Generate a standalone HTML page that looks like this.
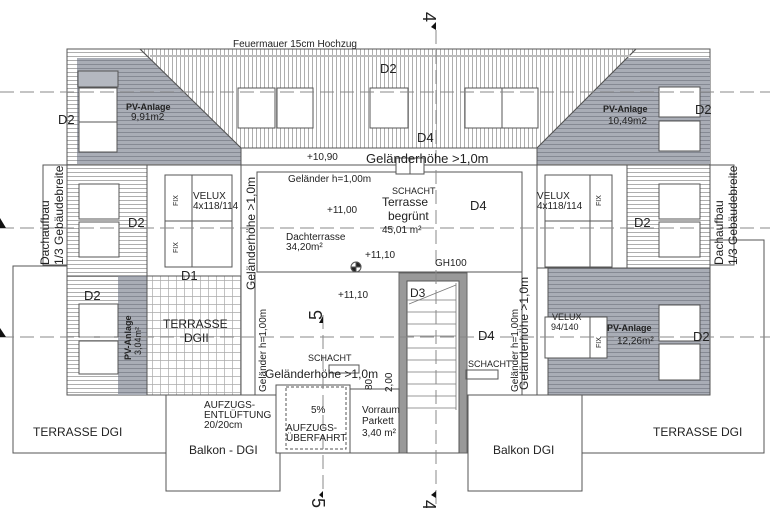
<!DOCTYPE html>
<html><head><meta charset="utf-8"><style>
html,body{margin:0;padding:0;background:#fff}
svg{display:block}
text{font-family:"Liberation Sans",sans-serif;fill:#222}
</style></head><body>
<svg width="770" height="508" viewBox="0 0 770 508" xmlns="http://www.w3.org/2000/svg">
<defs>
<pattern id="hh" width="4" height="4" patternUnits="userSpaceOnUse"><rect width="4" height="4" fill="#fff"/><line x1="0" y1="0.5" x2="4" y2="0.5" stroke="#999" stroke-width="0.8"/></pattern>
<pattern id="hv" width="4" height="4" patternUnits="userSpaceOnUse"><rect width="4" height="4" fill="#fff"/><line x1="0.5" y1="0" x2="0.5" y2="4" stroke="#999" stroke-width="0.8"/></pattern>
<pattern id="hg" width="4" height="4" patternUnits="userSpaceOnUse"><rect width="4" height="4" fill="#a9adb6"/><line x1="0" y1="0.5" x2="4" y2="0.5" stroke="#7c808a" stroke-width="0.8"/></pattern>
<pattern id="grid" width="8" height="8" patternUnits="userSpaceOnUse"><rect width="8" height="8" fill="#fff"/><path d="M0 0.5H8M0.5 0V8" stroke="#aaa" stroke-width="0.7"/></pattern>
</defs>
<g stroke="#555" stroke-width="1" fill="none">
<rect x="67" y="49" width="643" height="116" fill="url(#hh)"/>
<polygon points="140,49 636,49 537,148 241,148" fill="url(#hv)"/>
<polygon points="77,58 150,58 241,148 241,164 77,164" fill="url(#hg)" stroke="none"/>
<polygon points="627,58 710,58 710,164 537,164 537,148" fill="url(#hg)" stroke="none"/>
<line x1="140" y1="49" x2="241" y2="148"/><line x1="636" y1="49" x2="537" y2="148"/>
<line x1="150" y1="56" x2="630" y2="56" stroke-width="2" stroke="#bbb"/>
<rect x="241" y="148" width="296" height="17" fill="#fff"/>
<rect x="78" y="71" width="40" height="16" fill="#b4b8c0"/>
<rect x="79" y="88" width="38" height="38" fill="#fff"/><rect x="79" y="122" width="38" height="30" fill="#fff"/>
<rect x="659" y="87" width="41" height="30" fill="#fff"/><rect x="659" y="121" width="41" height="30" fill="#fff"/>
<rect x="238" y="88" width="37" height="40" fill="#fff"/><rect x="277" y="88" width="36" height="40" fill="#fff"/>
<rect x="370" y="88" width="38" height="40" fill="#fff"/>
<rect x="465" y="88" width="37" height="40" fill="#fff"/><rect x="502" y="88" width="36" height="40" fill="#fff"/>
<rect x="67" y="165" width="80" height="111" fill="url(#hh)"/>
<rect x="43" y="165" width="24" height="100" fill="#fff"/>
<rect x="710" y="165" width="24" height="100" fill="#fff"/>
<rect x="627" y="165" width="83" height="103" fill="url(#hh)"/>
<rect x="147" y="165" width="94" height="111" fill="#fff"/>
<rect x="537" y="165" width="90" height="103" fill="#fff"/>
<rect x="79" y="184" width="40" height="35" fill="#fff"/><rect x="79" y="222" width="40" height="35" fill="#fff"/>
<rect x="659" y="184" width="41" height="35" fill="#fff"/><rect x="659" y="222" width="41" height="35" fill="#fff"/>
<rect x="165" y="175" width="67" height="92"/><line x1="192" y1="175" x2="192" y2="267"/><line x1="165" y1="221" x2="232" y2="221"/>
<rect x="545" y="175" width="67" height="92"/><line x1="590" y1="175" x2="590" y2="267"/><line x1="545" y1="221" x2="612" y2="221"/>
<rect x="241" y="165" width="296" height="230" fill="#fff"/>
<rect x="257" y="172" width="265" height="100"/>
<line x1="255" y1="272" x2="255" y2="395"/>
<line x1="522" y1="272" x2="522" y2="395"/>
<rect x="396" y="158" width="28" height="16" fill="#fff"/><line x1="410" y1="158" x2="410" y2="174"/>
<polyline points="67,266 13,266 13,453 167,453"/>
<polyline points="710,240 764,240 764,453 582,453"/>
<rect x="67" y="276" width="80" height="119" fill="url(#hh)"/>
<rect x="118" y="276" width="29" height="119" fill="url(#hg)" stroke="none"/>
<rect x="147" y="276" width="94" height="119" fill="url(#grid)"/>
<rect x="79" y="304" width="39" height="33" fill="#fff"/><rect x="79" y="341" width="39" height="33" fill="#fff"/>
<rect x="548" y="268" width="162" height="127" fill="url(#hg)"/>
<rect x="659" y="305" width="41" height="36" fill="#fff"/><rect x="659" y="344" width="41" height="36" fill="#fff"/>
<rect x="545" y="317" width="62" height="41" fill="#fff"/><rect x="590" y="317" width="17" height="41" fill="#fff"/>
<rect x="166" y="395" width="114" height="96" fill="#fff"/>
<rect x="468" y="395" width="114" height="96" fill="#fff"/>
<rect x="276" y="385" width="74" height="68" fill="#fff"/>
<rect x="286" y="387" width="60" height="62" stroke-dasharray="3,2"/>
<rect x="399" y="273" width="68" height="180" fill="#999" stroke="#666"/>
<rect x="407" y="281" width="52" height="172" fill="#fff"/>
<rect x="350" y="389" width="49" height="64" fill="#fff"/>
<g stroke="#777" stroke-width="0.8">
<line x1="407" y1="300" x2="456" y2="300"/><line x1="407" y1="312" x2="456" y2="312"/><line x1="407" y1="324" x2="456" y2="324"/>
<line x1="407" y1="336" x2="456" y2="336"/><line x1="407" y1="348" x2="456" y2="348"/><line x1="407" y1="360" x2="456" y2="360"/>
<line x1="407" y1="372" x2="456" y2="372"/><line x1="407" y1="384" x2="456" y2="384"/><line x1="407" y1="396" x2="456" y2="396"/>
<line x1="407" y1="408" x2="456" y2="408"/><line x1="456" y1="283" x2="456" y2="410"/><line x1="409" y1="304" x2="456" y2="285"/>
</g>
<rect x="466" y="370" width="32" height="9"/>
<rect x="329" y="365" width="30" height="8" fill="#fff"/>
<circle cx="356" cy="267" r="5" fill="#fff"/><path d="M356 262A5 5 0 0 1 361 267H356ZM356 272A5 5 0 0 1 351 267H356Z" fill="#222"/>
</g>
<g stroke="#888" stroke-width="1" stroke-dasharray="14,6" fill="none">
<line x1="0" y1="92" x2="770" y2="92"/><line x1="0" y1="228" x2="770" y2="228"/><line x1="0" y1="337" x2="770" y2="337"/>
<line x1="436" y1="30" x2="436" y2="508"/><line x1="323" y1="315" x2="323" y2="492"/>
</g>
<polygon points="431,27 436,22 436,30" fill="#111"/><polygon points="319,323 323,316 323,323" fill="#111"/>
<polygon points="431,495 436,491 436,498" fill="#111"/><polygon points="319,495 323,491 323,498" fill="#111"/>
<polygon points="0,218 6,228 0,228" fill="#111"/><polygon points="0,328 6,337 0,337" fill="#111"/>
<text font-size="18" transform="translate(423,12) rotate(90)">4</text>
<text font-size="18" transform="translate(322,320) rotate(-90)">5</text>
<text font-size="18" transform="translate(312,498) rotate(90)">5</text>
<text font-size="18" transform="translate(423,500) rotate(90)">4</text>
<g font-size="11">
<text x="233" y="47" font-size="10">Feuermauer 15cm Hochzug</text>
<text x="380" y="73" font-size="13">D2</text>
<text x="58" y="124" font-size="13">D2</text><text x="695" y="114" font-size="13">D2</text>
<text x="417" y="142" font-size="13">D4</text>
<text x="126" y="110" font-size="9" font-weight="bold">PV-Anlage</text><text x="131" y="120" font-size="10">9,91m2</text>
<text x="603" y="112" font-size="9" font-weight="bold">PV-Anlage</text><text x="608" y="124" font-size="10">10,49m2</text>
<text x="307" y="160" font-size="10">+10,90</text>
<text x="366" y="163" font-size="13">Geländerhöhe &gt;1,0m</text>
<text x="288" y="182" font-size="10">Geländer h=1,00m</text>
<text x="392" y="194" font-size="9">SCHACHT</text>
<text x="382" y="206" font-size="12">Terrasse</text><text x="388" y="220" font-size="12">begrünt</text><text x="382" y="233" font-size="10">45,01 m²</text>
<text x="470" y="210" font-size="13">D4</text>
<text x="327" y="213" font-size="10">+11,00</text>
<text x="286" y="240" font-size="10">Dachterrasse</text><text x="286" y="250" font-size="10">34,20m²</text>
<text x="365" y="258" font-size="10">+11,10</text>
<text x="338" y="298" font-size="10">+11,10</text>
<text x="193" y="199" font-size="10">VELUX</text><text x="193" y="209" font-size="10">4x118/114</text>
<text x="537" y="199" font-size="10">VELUX</text><text x="537" y="209" font-size="10">4x118/114</text>
<text x="128" y="227" font-size="13">D2</text><text x="634" y="227" font-size="13">D2</text>
<text x="181" y="280" font-size="13">D1</text>
<text x="84" y="300" font-size="13">D2</text>
<text x="163" y="328" font-size="12">TERRASSE</text><text x="184" y="342" font-size="12">DGII</text>
<text x="435" y="266" font-size="10">GH100</text>
<text x="410" y="297" font-size="12">D3</text>
<text x="478" y="340" font-size="13">D4</text>
<text x="693" y="341" font-size="13">D2</text>
<text x="552" y="320" font-size="9">VELUX</text><text x="551" y="330" font-size="9">94/140</text>
<text x="607" y="331" font-size="9" font-weight="bold">PV-Anlage</text><text x="617" y="344" font-size="10">12,26m²</text>
<text x="308" y="361" font-size="9">SCHACHT</text>
<text x="468" y="367" font-size="9">SCHACHT</text>
<text x="265" y="378" font-size="12">Geländerhöhe &gt;1,0m</text>
<text x="204" y="408" font-size="10">AUFZUGS-</text><text x="204" y="418" font-size="10">ENTLÜFTUNG</text><text x="204" y="428" font-size="10">20/20cm</text>
<text x="311" y="413" font-size="10">5%</text>
<text x="286" y="431" font-size="10">AUFZUGS-</text><text x="286" y="441" font-size="10">ÜBERFAHRT</text>
<text x="362" y="413" font-size="10">Vorraum</text><text x="362" y="424" font-size="10">Parkett</text><text x="362" y="436" font-size="10">3,40 m²</text>
<text x="33" y="436" font-size="12">TERRASSE DGI</text>
<text x="653" y="436" font-size="12">TERRASSE DGI</text>
<text x="189" y="454" font-size="12">Balkon - DGI</text>
<text x="493" y="454" font-size="12">Balkon DGI</text>
</g>
<g font-size="12">
<text transform="translate(49,265) rotate(-90)">Dachaufbau</text>
<text transform="translate(63,265) rotate(-90)">1/3 Gebäudebreite</text>
<text transform="translate(723,265) rotate(-90)">Dachaufbau</text>
<text transform="translate(737,265) rotate(-90)">1/3 Gebäudebreite</text>
<text transform="translate(255,290) rotate(-90)">Geländerhöhe &gt;1,0m</text>
<text transform="translate(528,390) rotate(-90)">Geländerhöhe &gt;1,0m</text>
<text font-size="10" transform="translate(266,392) rotate(-90)">Geländer h=1,00m</text>
<text font-size="10" transform="translate(518,392) rotate(-90)">Geländer h=1,00m</text>
<text font-size="9" font-weight="bold" transform="translate(131,360) rotate(-90)">PV-Anlage</text>
<text font-size="9" transform="translate(141,355) rotate(-90)">3,04m²</text>
<text font-size="10" transform="translate(372,390) rotate(-90)">80</text>
<text font-size="10" transform="translate(392,392) rotate(-90)">2,00</text>
<text font-size="7" transform="translate(178,206) rotate(-90)">FIX</text>
<text font-size="7" transform="translate(178,253) rotate(-90)">FIX</text>
<text font-size="7" transform="translate(601,206) rotate(-90)">FIX</text>
<text font-size="7" transform="translate(601,348) rotate(-90)">FIX</text>
</g>
</svg>
</body></html>
